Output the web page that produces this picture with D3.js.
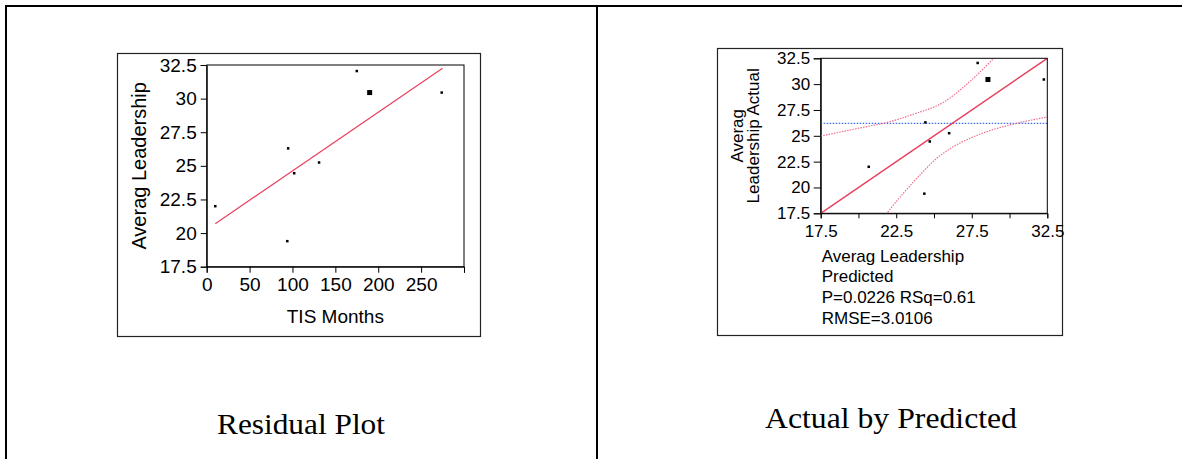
<!DOCTYPE html>
<html>
<head>
<meta charset="utf-8">
<script src="https://cdn.jsdelivr.net/npm/d3@7"></script>
<style>
  body { margin: 0; background: #fff; }
  svg { display: block; }
  text { font-family: "Liberation Sans", Arial, sans-serif; fill: #000; }
  .title { font-family: "Liberation Serif", "Times New Roman", serif; }
  .domain { stroke: #000; }
  .tick line { stroke: #000; }
</style>
</head>
<body>
<script>
// data
const tisMonths = [10, 95, 94, 102, 131, 175, 190, 274]
const leadershipActual = [22.0, 26.3, 19.4, 24.45, 25.25, 32.05, 30.45, 30.45]
const leadershipPredicted = [20.68, 24.43, 24.36, 24.72, 26.0, 27.89, 28.57, 32.27]
const pointSize = [2.5, 2.5, 2.5, 2.5, 2.5, 2.5, 5, 2.5]   // the big one is a stacked point

const fitTis = [10, 275]
const fitLeadership = [20.7, 32.25]

const meanActual = 26.2

const upperPred = [17.5, 20.76, 21.64, 23.74, 25.73, 26.83, 27.93, 28.93, 29.3]
const upperAct  = [24.98, 25.95, 26.21, 27.14, 28.33, 29.56, 31.01, 32.46, 33.0]
const lowerPred = [21.6, 21.87, 22.97, 24.07, 25.18, 26.28, 27.38, 28.49, 30.03, 32.5]
const lowerAct  = [17.0, 17.5, 19.44, 21.21, 22.82, 23.95, 24.76, 25.40, 26.05, 26.81]

const tisTicks = [0, 50, 100, 150, 200, 250, 300]
const leaderTicks = [17.5, 20, 22.5, 25, 27.5, 30, 32.5]
const predLabelTicks = [17.5, 22.5, 27.5, 32.5]

const footLines = ["Averag Leadership", "Predicted", "P=0.0226 RSq=0.61", "RMSE=3.0106"]

const width = 1182, height = 459
const RED = "#e8405f", PINK = "#f0708c", BLUE = "#3d6ff0"

const svg = d3.select("body").append("svg")
  .attr("width", width)
  .attr("height", height)

svg.append("rect").attr("width", width).attr("height", height).attr("fill", "#fff")

// page table lines
svg.append("line").attr("x1", 5).attr("x2", width).attr("y1", 6).attr("y2", 6)
  .attr("stroke", "#000").attr("stroke-width", 2)
svg.append("line").attr("x1", 6).attr("x2", 6).attr("y1", 5).attr("y2", height)
  .attr("stroke", "#000").attr("stroke-width", 2)
svg.append("line").attr("x1", 597).attr("x2", 597).attr("y1", 5).attr("y2", height)
  .attr("stroke", "#000").attr("stroke-width", 2)

// captions
svg.append("text").attr("class", "title")
  .attr("x", 301).attr("y", 434).attr("text-anchor", "middle")
  .style("font-size", "29px")
  .attr("textLength", 168).attr("lengthAdjust", "spacingAndGlyphs")
  .text("Residual Plot")
svg.append("text").attr("class", "title")
  .attr("x", 891).attr("y", 428).attr("text-anchor", "middle")
  .style("font-size", "29px")
  .attr("textLength", 252).attr("lengthAdjust", "spacingAndGlyphs")
  .text("Actual by Predicted")

// ---------- left: residual plot ----------
svg.append("rect").attr("x", 117.5).attr("y", 53.5).attr("width", 363).attr("height", 283)
  .attr("fill", "none").attr("stroke", "#222").attr("stroke-width", 1.2)

const L = {left: 206.7, right: 464, top: 65, bottom: 266.7}
const xL = d3.scaleLinear().domain([0, 300]).range([L.left, L.right])
const yL = d3.scaleLinear().domain([17.5, 32.5]).range([L.bottom, L.top])

const gL = svg.append("g")

gL.append("rect").attr("x", L.left).attr("y", L.top)
  .attr("width", L.right - L.left).attr("height", L.bottom - L.top)
  .attr("fill", "none").attr("stroke", "#000")

gL.append("g")
  .attr("transform", `translate(0,${L.bottom})`)
  .call(d3.axisBottom(xL).tickValues(tisTicks).tickSize(6).tickPadding(5)
    .tickFormat(d => d == 300 ? "" : d))
  .call(g => g.selectAll("text").style("font-size", "19px").attr("font-family", null))

gL.append("g")
  .attr("transform", `translate(${L.left},0)`)
  .call(d3.axisLeft(yL).tickValues(leaderTicks).tickSize(6).tickPadding(4)
    .tickFormat(d3.format("")))
  .call(g => g.selectAll("text").style("font-size", "19px").attr("font-family", null))

gL.append("text").attr("x", (L.left + L.right) / 2).attr("y", 322.7)
  .attr("text-anchor", "middle").style("font-size", "19px").text("TIS Months")
gL.append("text")
  .attr("transform", `translate(146,${(L.top + L.bottom) / 2}) rotate(-90)`)
  .attr("text-anchor", "middle").style("font-size", "20px").text("Averag Leadership")

gL.append("line")
  .attr("x1", xL(fitTis[0])).attr("y1", yL(fitLeadership[0]))
  .attr("x2", xL(fitTis[1])).attr("y2", yL(fitLeadership[1]))
  .attr("stroke", RED).attr("stroke-width", 1.2)

gL.selectAll(".pt").data(tisMonths).enter().append("rect")
  .attr("class", "pt")
  .attr("x", (d, i) => xL(d) - pointSize[i] / 2)
  .attr("y", (d, i) => yL(leadershipActual[i]) - pointSize[i] / 2)
  .attr("width", (d, i) => pointSize[i])
  .attr("height", (d, i) => pointSize[i])
  .attr("fill", "#000")

// ---------- right: actual by predicted ----------
svg.append("rect").attr("x", 717.5).attr("y", 48.5).attr("width", 345).attr("height", 287)
  .attr("fill", "none").attr("stroke", "#222").attr("stroke-width", 1.2)

const R = {left: 820.7, right: 1047.3, top: 58.3, bottom: 213.3}
const xR = d3.scaleLinear().domain([17.5, 32.5]).range([R.left, R.right])
const yR = d3.scaleLinear().domain([17.5, 32.5]).range([R.bottom, R.top])

const gR = svg.append("g")

svg.append("clipPath").attr("id", "clipR").append("rect")
  .attr("x", R.left).attr("y", R.top)
  .attr("width", R.right - R.left).attr("height", R.bottom - R.top)

gR.append("g")
  .attr("transform", `translate(0,${R.bottom})`)
  .call(d3.axisBottom(xR).tickValues(leaderTicks).tickSize(5).tickPadding(7)
    .tickFormat(d => predLabelTicks.includes(d) ? d : ""))
  .call(g => g.selectAll("text").style("font-size", "17px").attr("font-family", null))

gR.append("g")
  .attr("transform", `translate(${R.left},0)`)
  .call(d3.axisLeft(yR).tickValues(leaderTicks).tickSize(7).tickPadding(3.5)
    .tickFormat(d3.format("")))
  .call(g => g.selectAll("text").style("font-size", "17px").attr("font-family", null))

const yTitle = gR.append("text")
  .attr("transform", `translate(743,${(R.top + R.bottom) / 2}) rotate(-90)`)
  .attr("text-anchor", "middle").style("font-size", "17px")
yTitle.append("tspan").attr("x", 0).attr("dy", 0).text("Averag")
yTitle.append("tspan").attr("x", 0).attr("dy", 15.5).text("Leadership Actual")

gR.selectAll(".foot").data(footLines).enter().append("text")
  .attr("class", "foot")
  .attr("x", 821.7)
  .attr("y", (d, i) => 261.7 + i * 20.6)
  .style("font-size", "17px")
  .text(d => d)

const plotR = gR.append("g").attr("clip-path", "url(#clipR)")

plotR.append("line")
  .attr("x1", R.left).attr("x2", R.right)
  .attr("y1", yR(meanActual)).attr("y2", yR(meanActual))
  .attr("stroke", BLUE).attr("stroke-width", 1.1).attr("stroke-dasharray", "1.5,1.5")

const band = d3.line().curve(d3.curveMonotoneX)
  .x(d => xR(d[0])).y(d => yR(d[1]))

plotR.append("path")
  .attr("d", band(d3.zip(upperPred, upperAct)))
  .attr("fill", "none").attr("stroke", PINK).attr("stroke-width", 1.2)
  .attr("stroke-dasharray", "1.5,1.2")
plotR.append("path")
  .attr("d", band(d3.zip(lowerPred, lowerAct)))
  .attr("fill", "none").attr("stroke", PINK).attr("stroke-width", 1.2)
  .attr("stroke-dasharray", "1.5,1.2")

plotR.append("line")
  .attr("x1", xR(17.5)).attr("y1", yR(17.5))
  .attr("x2", xR(32.5)).attr("y2", yR(32.5))
  .attr("stroke", RED).attr("stroke-width", 1.4)

gR.selectAll(".pt").data(leadershipPredicted).enter().append("rect")
  .attr("class", "pt")
  .attr("x", (d, i) => xR(d) - pointSize[i] / 2)
  .attr("y", (d, i) => yR(leadershipActual[i]) - pointSize[i] / 2)
  .attr("width", (d, i) => pointSize[i])
  .attr("height", (d, i) => pointSize[i])
  .attr("fill", "#000")

gR.append("rect").attr("x", R.left).attr("y", R.top)
  .attr("width", R.right - R.left).attr("height", R.bottom - R.top)
  .attr("fill", "none").attr("stroke", "#000")
</script>
</body>
</html>
